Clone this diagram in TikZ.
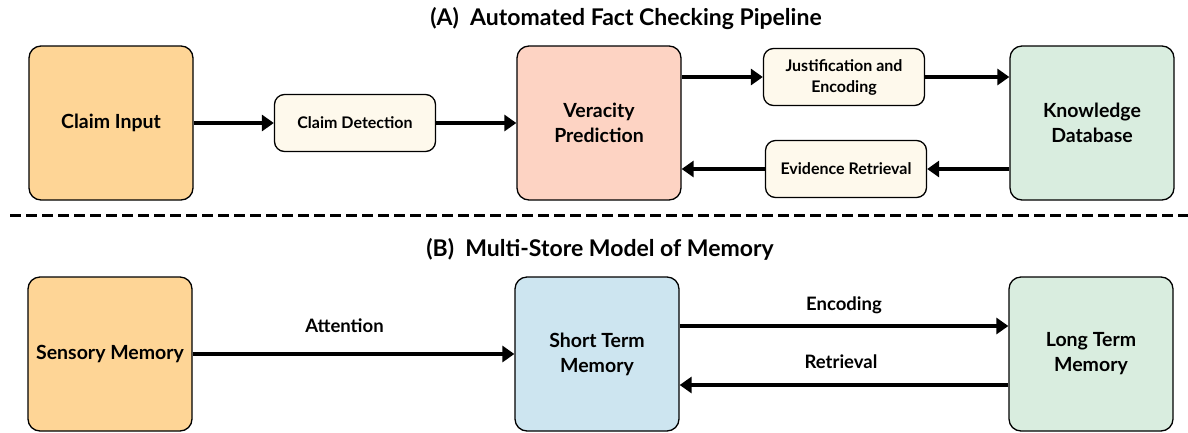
\documentclass[tikz,border=0pt]{standalone}
\usepackage{fontspec}
\setmainfont{Lato}
\usetikzlibrary{arrows.meta}

\definecolor{inputorange}{HTML}{FED596}
\definecolor{predpink}{HTML}{FDD3C3}
\definecolor{stepcream}{HTML}{FEF9EC}
\definecolor{storegreen}{HTML}{D9EDDF}
\definecolor{shortblue}{HTML}{CDE5F0}

\tikzset{
  bigbox/.style={draw=black, line width=1.3pt, rounded corners=12pt,
    minimum width=164pt, minimum height=154pt, inner sep=0pt, align=center,
    font=\fontsize{19.5}{25}\selectfont\bfseries},
  smallbox/.style={draw=black, line width=1.3pt, rounded corners=10pt,
    fill=stepcream, minimum width=161pt, minimum height=57pt, inner sep=0pt,
    align=center, font=\fontsize{16}{21}\selectfont\bfseries},
  flow/.style={line width=4pt, -{Triangle[length=12pt,width=16pt]}},
  paneltitle/.style={font=\fontsize{23}{26}\selectfont\bfseries},
  edgelabel/.style={font=\fontsize{18.5}{20}\selectfont\bfseries,
    text height=12pt, text depth=3pt, inner sep=0pt},
  divider/.style={line width=3pt, dash pattern=on 11pt off 5pt}
}

\begin{document}
\begin{tikzpicture}[x=1pt, y=-1pt]
    \useasboundingbox (0,0) rectangle (1188,432);

    % (A) fact checking
    \node[paneltitle] (titleA) at (626,19) {(A)\ \ Automated Fact Checking Pipeline};
    \node[bigbox, fill=inputorange] (claim) at (111,123) {Claim Input};
    \node[smallbox] (detect) at (355,123) {Claim Detection};
    \node[bigbox, fill=predpink] (verac) at (599,123) {Veracity\\Prediction};
    \node[smallbox] (justif) at (844,77) {Justification and\\Encoding};
    \node[smallbox] (evid) at (846,169) {Evidence Retrieval};
    \node[bigbox, fill=storegreen] (kbase) at (1092,123) {Knowledge\\Database};

    \draw[flow] (claim) -- (detect);
    \draw[flow] (detect) -- (verac);
    \draw[flow] (verac.east |- justif) -- (justif);
    \draw[flow] (justif) -- (justif -| kbase.west);
    \draw[flow] (kbase.west |- evid) -- (evid);
    \draw[flow] (evid) -- (evid -| verac.east);

    \draw[divider] (10,215) -- (1188,215);

    % (B) memory model
    \node[paneltitle] (titleB) at (600,249) {(B)\ \ Multi-Store Model of Memory};
    \node[bigbox, fill=inputorange] (sensory) at (110,354) {Sensory Memory};
    \node[bigbox, fill=shortblue] (shortterm) at (597,354) {Short Term\\Memory};
    \node[bigbox, fill=storegreen] (longterm) at (1091,354) {Long Term\\Memory};

    \draw[flow] (sensory) -- node[edgelabel, midway, yshift=26pt, xshift=-9pt] {Attention} (shortterm);
    \draw[flow] ([yshift=28pt]shortterm.east) -- node[edgelabel, midway, yshift=20pt] {Encoding} ([yshift=28pt]longterm.west);
    \draw[flow] ([yshift=-31pt]longterm.west) -- node[edgelabel, midway, yshift=21pt, xshift=-3pt] {Retrieval} ([yshift=-31pt]shortterm.east);
\end{tikzpicture}
\end{document}
